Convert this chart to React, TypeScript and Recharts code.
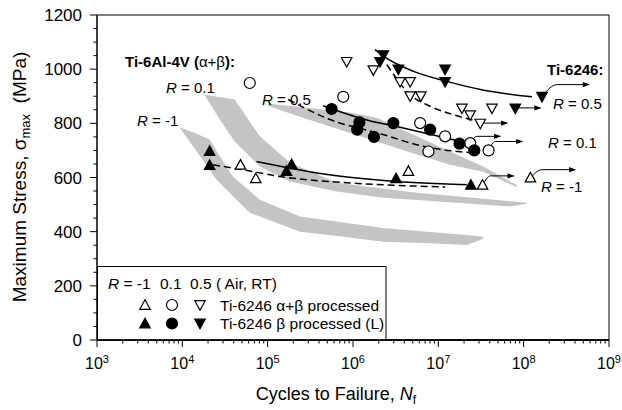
import React from 'react';
import { ComposedChart, XAxis, YAxis, Area, Line, Scatter, ReferenceArea } from 'recharts';

const FONT = '"Liberation Sans", Arial, sans-serif';

// axis ticks
const xTicks = [
  1e3, 2e3, 3e3, 4e3, 5e3, 6e3, 7e3, 8e3, 9e3,
  1e4, 2e4, 3e4, 4e4, 5e4, 6e4, 7e4, 8e4, 9e4,
  1e5, 2e5, 3e5, 4e5, 5e5, 6e5, 7e5, 8e5, 9e5,
  1e6, 2e6, 3e6, 4e6, 5e6, 6e6, 7e6, 8e6, 9e6,
  1e7, 2e7, 3e7, 4e7, 5e7, 6e7, 7e7, 8e7, 9e7,
  1e8, 2e8, 3e8, 4e8, 5e8, 6e8, 7e8, 8e8, 9e8,
  1e9,
];
const yTicks = [0, 50, 100, 150, 200, 250, 300, 350, 400, 450, 500, 550, 600, 650, 700, 750, 800, 850, 900, 950, 1000, 1050, 1100, 1150, 1200];

// grey scatter bands of Ti-6Al-4V (n, [low, high])
const bandM1 = [
  { n: 9.3e3, r: [784, 786] },
  { n: 1.4e4, r: [706, 764] },
  { n: 2.09e4, r: [629, 740] },
  { n: 2.53e4, r: [592, 697] },
  { n: 3.9e4, r: [532, 604] },
  { n: 6.17e4, r: [470, 550] },
  { n: 8.09e4, r: [456, 518] },
  { n: 2.39e5, r: [400, 456] },
  { n: 7.04e5, r: [383, 436] },
  { n: 2.25e6, r: [363, 414] },
  { n: 8.0e6, r: [357, 399] },
  { n: 2.16e7, r: [351, 388] },
  { n: 3.36e7, r: [374, 381] },
];
const bandP1 = [
  { n: 1.83e4, r: [904, 906] },
  { n: 2.74e4, r: [814, 897] },
  { n: 4.11e4, r: [733, 888] },
  { n: 8.09e4, r: [641, 752] },
  { n: 1.82e5, r: [585, 655] },
  { n: 6.44e5, r: [548, 581] },
  { n: 2.25e6, r: [525, 559] },
  { n: 5.6e6, r: [517, 544] },
  { n: 2.37e7, r: [503, 526] },
  { n: 6.97e7, r: [493, 512] },
  { n: 1.09e8, r: [503, 507] },
];
const bandP5 = [
  { n: 1.0e5, r: [865, 873] },
  { n: 2.39e5, r: [824, 860] },
  { n: 9.23e5, r: [764, 840] },
  { n: 1.9e6, r: [733, 821] },
  { n: 5.6e6, r: [685, 752] },
  { n: 1.37e7, r: [647, 696] },
  { n: 3.36e7, r: [621, 641] },
  { n: 8.36e7, r: [564, 571] },
];

// Ti-6246 test points (n = cycles, s = max stress)
const abM1 = [{ n: 4.8e4, s: 645 }, { n: 7.26e4, s: 595 }, { n: 4.46e6, s: 622 }, { n: 3.3e7, s: 571 }, { n: 1.2e8, s: 598 }];
const bM1 = [{ n: 2.09e4, s: 696 }, { n: 2.09e4, s: 644 }, { n: 1.91e5, s: 647 }, { n: 1.66e5, s: 622 }, { n: 3.2e6, s: 595 }, { n: 2.41e7, s: 571 }];
const abP1 = [{ n: 6.17e4, s: 949 }, { n: 7.69e5, s: 898 }, { n: 6.12e6, s: 801 }, { n: 1.2e7, s: 752 }, { n: 7.66e6, s: 696 }, { n: 2.36e7, s: 727 }, { n: 3.88e7, s: 700 }];
const bP1 = [{ n: 5.62e5, s: 853 }, { n: 1.19e6, s: 804 }, { n: 1.12e6, s: 777 }, { n: 1.76e6, s: 750 }, { n: 2.97e6, s: 801 }, { n: 8.02e6, s: 777 }, { n: 1.77e7, s: 725 }, { n: 2.64e7, s: 700 }];
const abP5 = [{ n: 8.43e5, s: 1029 }, { n: 1.73e6, s: 998 }, { n: 3.56e6, s: 955 }, { n: 4.67e6, s: 955 }, { n: 4.67e6, s: 902 }, { n: 6.24e6, s: 902 }, { n: 1.89e7, s: 857 }, { n: 2.36e7, s: 832 }, { n: 3.1e7, s: 801 }, { n: 4.25e7, s: 857 }];
const bP5 = [{ n: 2.27e6, s: 1054 }, { n: 2.07e6, s: 1029 }, { n: 3.4e6, s: 1001 }, { n: 1.2e7, s: 1001 }, { n: 1.2e7, s: 955 }, { n: 7.98e7, s: 857 }, { n: 1.64e8, s: 900 }];

// fitted curves
const fitBP5 = [{ n: 1.81e6, s: 1072 }, { n: 2.27e6, s: 1048 }, { n: 5.11e6, s: 992 }, { n: 1.26e7, s: 955 }, { n: 3.1e7, s: 925 }, { n: 1.25e8, s: 898 }];
const fitABP5 = [{ n: 2.49e6, s: 1017 }, { n: 4.67e6, s: 906 }, { n: 8.02e6, s: 863 }, { n: 1.65e7, s: 828 }, { n: 2.83e7, s: 808 }];
const fitBP1 = [{ n: 4.48e5, s: 865 }, { n: 1.45e6, s: 812 }, { n: 3.26e6, s: 788 }, { n: 8.0e6, s: 760 }, { n: 1.72e7, s: 735 }];
const fitABP1 = [{ n: 1.74e5, s: 888 }, { n: 5.37e5, s: 814 }, { n: 2.07e6, s: 762 }, { n: 6.68e6, s: 715 }, { n: 2.7e7, s: 690 }];
const fitM1 = [{ n: 7.4e4, s: 659 }, { n: 3.75e5, s: 617 }, { n: 2.27e6, s: 589 }, { n: 2.16e7, s: 573 }];
const fitM1d = [{ n: 2.29e4, s: 647 }, { n: 4.8e4, s: 630 }, { n: 1.52e5, s: 602 }, { n: 9.23e5, s: 580 }, { n: 1.2e7, s: 565 }];

// run-out arrows
const runouts = [
  [{ n: 7.98e7, s: 857 }, { n: 1.57e8, s: 857 }],
  [{ n: 1.64e8, s: 900 }, { n: 2.46e8, s: 943 }, { n: 5.8e8, s: 943 }],
  [{ n: 3.1e7, s: 801 }, { n: 6.4e7, s: 801 }],
  [{ n: 2.36e7, s: 727 }, { n: 2.83e7, s: 752 }, { n: 5.3e7, s: 752 }],
  [{ n: 3.88e7, s: 700 }, { n: 4.64e7, s: 733 }, { n: 9.6e7, s: 733 }],
  [{ n: 3.3e7, s: 571 }, { n: 4.06e7, s: 606 }, { n: 7.6e7, s: 606 }],
  [{ n: 1.2e8, s: 598 }, { n: 1.64e8, s: 629 }, { n: 4.0e8, s: 629 }],
];

const marker = (kind: string, filled: boolean) => (p: any) => {
  const { cx, cy } = p;
  const fill = filled ? '#000' : '#fff';
  if (kind === 'circle') {
    return <circle cx={cx} cy={cy} r={5.5} fill={fill} stroke="#000" strokeWidth={1.2} />;
  }
  const w = 10.5;
  const h = 9.5;
  const pts =
    kind === 'up'
      ? `${cx},${cy - h * 0.6} ${cx - w / 2},${cy + h * 0.4} ${cx + w / 2},${cy + h * 0.4}`
      : `${cx},${cy + h * 0.6} ${cx - w / 2},${cy - h * 0.4} ${cx + w / 2},${cy - h * 0.4}`;
  return <polygon points={pts} fill={fill} stroke="#000" strokeWidth={1.2} />;
};

const arrowDot = (last: number) => (p: any) => {
  if (p.index !== last) return <g key={p.index} />;
  const { cx, cy } = p;
  return <polygon key={p.index} points={`${cx + 1},${cy} ${cx - 6},${cy - 2.6} ${cx - 6},${cy + 2.6}`} fill="#000" />;
};

const XTick = (props: any) => {
  const { x, y, payload } = props;
  const v = payload.value;
  const e = Math.round(Math.log10(v));
  const major = Math.abs(Math.log10(v) - e) < 1e-6;
  return (
    <g>
      <line x1={x} x2={x} y1={y} y2={y + (major ? 7 : 3.5)} stroke="#000" strokeWidth={1} />
      {major && (
        <text x={x} y={y + 29} textAnchor="middle" fontSize={16} fontFamily={FONT} fill="#000">
          10<tspan dy={-6} fontSize={11}>{e}</tspan>
        </text>
      )}
    </g>
  );
};

const YTick = (props: any) => {
  const { x, y, payload } = props;
  const major = payload.value % 200 === 0;
  return (
    <g>
      <line x1={x - (major ? 7 : 3.5)} x2={x} y1={y} y2={y} stroke="#000" strokeWidth={1} />
      {major && (
        <text x={x - 15} y={y + 6} textAnchor="end" fontSize={17} fontFamily={FONT} fill="#000">
          {payload.value}
        </text>
      )}
    </g>
  );
};

const txt = { fontFamily: FONT, fill: '#000' } as const;

const App = () => {
  return (
    <div style={{ position: 'absolute', left: 0, top: 0, width: 622, height: 410, background: '#fff' }}>
      <ComposedChart width={622} height={410} margin={{ top: 15, right: 13, bottom: 0, left: 0 }}>
        <XAxis
          dataKey="n"
          type="number"
          scale="log"
          domain={[1e3, 1e9]}
          allowDataOverflow
          ticks={xTicks}
          interval={0}
          tickSize={0}
          tickMargin={0}
          tickLine={false}
          tick={<XTick />}
          height={70}
          stroke="#000"
          strokeWidth={1.5}
        />
        <YAxis
          dataKey="s"
          type="number"
          domain={[0, 1200]}
          allowDataOverflow
          ticks={yTicks}
          interval={0}
          tickSize={0}
          tickMargin={0}
          tickLine={false}
          tick={<YTick />}
          width={97}
          stroke="#000"
        />
        <ReferenceArea x1={1e3} x2={1e9} y1={0} y2={1200} stroke="#000" strokeWidth={1} fill="none" ifOverflow="visible" />

        <Area data={bandM1} dataKey="r" type="linear" stroke="none" fill="#c4c4c4" fillOpacity={1} isAnimationActive={false} />
        <Area data={bandP1} dataKey="r" type="linear" stroke="none" fill="#c4c4c4" fillOpacity={1} isAnimationActive={false} />
        <Area data={bandP5} dataKey="r" type="linear" stroke="none" fill="#c4c4c4" fillOpacity={1} isAnimationActive={false} />

        <Line data={fitBP5} dataKey="s" type="monotone" stroke="#000" strokeWidth={1.5} dot={false} isAnimationActive={false} />
        <Line data={fitABP5} dataKey="s" type="monotone" stroke="#000" strokeWidth={1.5} strokeDasharray="7 4" dot={false} isAnimationActive={false} />
        <Line data={fitBP1} dataKey="s" type="monotone" stroke="#000" strokeWidth={1.5} dot={false} isAnimationActive={false} />
        <Line data={fitABP1} dataKey="s" type="monotone" stroke="#000" strokeWidth={1.5} strokeDasharray="7 4" dot={false} isAnimationActive={false} />
        <Line data={fitM1} dataKey="s" type="monotone" stroke="#000" strokeWidth={1.5} dot={false} isAnimationActive={false} />
        <Line data={fitM1d} dataKey="s" type="monotone" stroke="#000" strokeWidth={1.5} strokeDasharray="7 4" dot={false} isAnimationActive={false} />

        {runouts.map((d, i) => (
          <Line key={i} data={d} dataKey="s" type="monotone" stroke="#000" strokeWidth={1} dot={arrowDot(d.length - 1)} isAnimationActive={false} />
        ))}

        <Scatter data={abM1} shape={marker('up', false)} isAnimationActive={false} />
        <Scatter data={bM1} shape={marker('up', true)} isAnimationActive={false} />
        <Scatter data={abP1} shape={marker('circle', false)} isAnimationActive={false} />
        <Scatter data={bP1} shape={marker('circle', true)} isAnimationActive={false} />
        <Scatter data={abP5} shape={marker('down', false)} isAnimationActive={false} />
        <Scatter data={bP5} shape={marker('down', true)} isAnimationActive={false} />
      </ComposedChart>

      <svg width={622} height={410} style={{ position: 'absolute', left: 0, top: 0, pointerEvents: 'none' }}>
        {/* axis titles */}
        <text transform="translate(26,177) rotate(-90)" textAnchor="middle" fontSize={19} {...txt}>
          Maximum Stress, σ<tspan fontSize={13} dy={4}>max</tspan>
          <tspan dy={-4}>{'\u00a0\u00a0(MPa)'}</tspan>
        </text>
        <text x={336} y={400} textAnchor="middle" fontSize={18} {...txt}>
          Cycles to Failure, <tspan fontStyle="italic">N</tspan>
          <tspan fontSize={12} dy={4}>f</tspan>
        </text>

        {/* annotations */}
        <text x={125} y={67} fontSize={15} fontWeight="bold" {...txt}>
          Ti-6Al-4V (<tspan fontWeight="normal">α+β</tspan>):
        </text>
        <text x={166} y={92.5} fontSize={15} {...txt}><tspan fontStyle="italic">R</tspan> = 0.1</text>
        <text x={137} y={126} fontSize={15} {...txt}><tspan fontStyle="italic">R</tspan> = -1</text>
        <text x={262} y={104.5} fontSize={15} {...txt}><tspan fontStyle="italic">R</tspan> = 0.5</text>
        <text x={547} y={75} fontSize={15} fontWeight="bold" {...txt}>Ti-6246:</text>
        <text x={553} y={109} fontSize={15} {...txt}><tspan fontStyle="italic">R</tspan> = 0.5</text>
        <text x={548} y={148} fontSize={15} {...txt}><tspan fontStyle="italic">R</tspan> = 0.1</text>
        <text x={541} y={192} fontSize={15} {...txt}><tspan fontStyle="italic">R</tspan> = -1</text>

        {/* legend */}
        <rect x={97.5} y={266.5} width={288.5} height={73.5} fill="#fff" stroke="#000" strokeWidth={1} />
        <text y={289} fontSize={15.5} {...txt}>
          <tspan x={108} fontStyle="italic">R</tspan>
          <tspan> = -1</tspan>
          <tspan x={160}>0.1</tspan>
          <tspan x={190}>0.5</tspan>
          <tspan x={216}>( Air, RT)</tspan>
        </text>
        {marker('up', false)({ cx: 145, cy: 305.5 })}
        {marker('circle', false)({ cx: 172, cy: 305 })}
        {marker('down', false)({ cx: 200, cy: 304.5 })}
        <text x={220} y={310.5} fontSize={15.5} {...txt}>Ti-6246 α+β processed</text>
        {marker('up', true)({ cx: 145, cy: 324 })}
        {marker('circle', true)({ cx: 172, cy: 323.5 })}
        {marker('down', true)({ cx: 200, cy: 323 })}
        <text x={220} y={329} fontSize={15.5} {...txt}>Ti-6246 β processed (L)</text>
        <line x1={97.5} x2={608.5} y1={340} y2={340} stroke="#000" strokeWidth={1.5} />
      </svg>
    </div>
  );
};

export default App;
